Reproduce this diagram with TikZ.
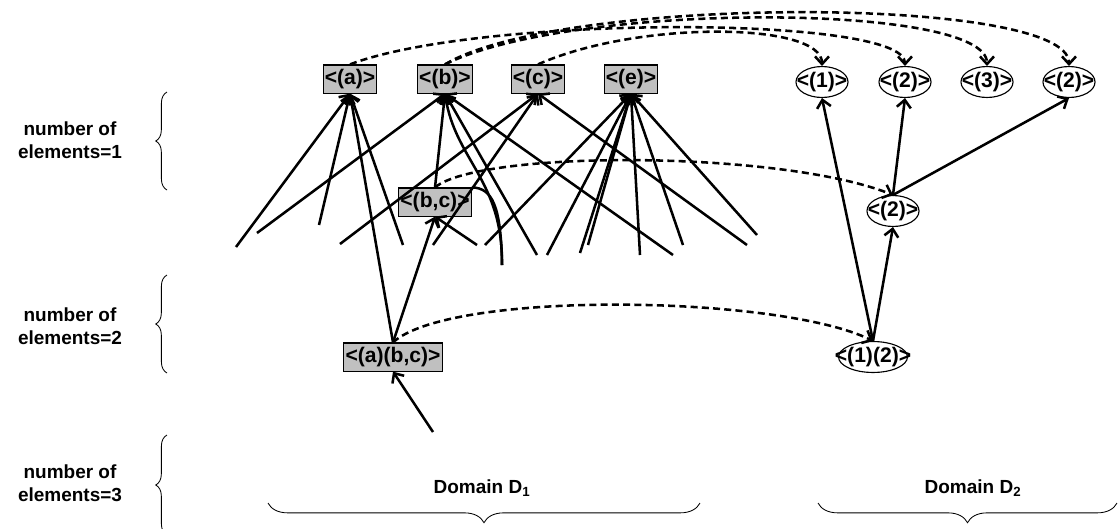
\documentclass[tikz,border=0pt]{standalone}
\usepackage{fontspec}
\setmainfont{Liberation Sans}
\usetikzlibrary{arrows.meta,shapes.geometric,decorations.pathreplacing}
\definecolor{box_grey}{RGB}{192,192,192}
\tikzstyle{box}=[rectangle,fill=box_grey,draw=black,line width=0.8pt,
  inner xsep=1.2pt,inner ysep=0pt,minimum height=20pt,font=\fontsize{15}{15}\selectfont\bfseries]
\tikzstyle{ell}=[ellipse,draw=black,line width=0.8pt,inner sep=0pt,
  minimum width=37pt,minimum height=22pt,font=\fontsize{15}{15}\selectfont\bfseries]
\tikzstyle{lbl}=[align=center,font=\fontsize{13.5}{16}\selectfont\bfseries]
\tikzstyle{none}=[inner sep=0pt]
\tikzstyle{arr}=[line width=1.8pt,-{Straight Barb[length=5.5pt,width=10pt]}]
\tikzstyle{dsh}=[arr,dash pattern=on 5pt off 3pt]
\tikzstyle{brc}=[decorate,line width=0.6pt]
\begin{document}
\begin{tikzpicture}[x=0.025cm, y=-0.025cm]
		\useasboundingbox (0,0) rectangle (1120,528);
		\clip (0,0) rectangle (1120,528);
		% domain D1
		\node [style=box] (0) at (350,79) {<(a)>};
		\node [style=box] (1) at (445,79) {<(b)>};
		\node [style=box] (2) at (538,79) {<(c)>};
		\node [style=box] (3) at (631,79) {<(e)>};
		\node [style=box] (4) at (435,202) {<(b,c)>};
		\node [style=box] (5) at (393,357) {<(a)(b,c)>};
		% domain D2
		\node [style=ell] (6) at (822,82) {\makebox[0pt]{<(1)>}};
		\node [style=ell] (7) at (905,82) {\makebox[0pt]{<(2)>}};
		\node [style=ell] (8) at (987,82) {\makebox[0pt]{<(3)>}};
		\node [style=ell] (9) at (1069,82) {\makebox[0pt]{<(2)>}};
		\node [style=ell] (10) at (893,211) {\makebox[0pt]{<(2)>}};
		\node [style=ell, minimum width=49pt] (11) at (873,357) {\makebox[0pt]{<(1)(2)>}};
		% loose ends
		\node [style=none] (20) at (236,247) {};
		\node [style=none] (21) at (319,225) {};
		\node [style=none] (22) at (403,245) {};
		\node [style=none] (23) at (257,233) {};
		\node [style=none] (24) at (502,265) {};
		\node [style=none] (25) at (673,255) {};
		\node [style=none] (26) at (537,255) {};
		\node [style=none] (27) at (340,244) {};
		\node [style=none] (28) at (747,245) {};
		\node [style=none] (29) at (433,245) {};
		\node [style=none] (30) at (485,245) {};
		\node [style=none] (31) at (547,255) {};
		\node [style=none] (32) at (580,253) {};
		\node [style=none] (33) at (588,245) {};
		\node [style=none] (34) at (640,255) {};
		\node [style=none] (35) at (683,245) {};
		\node [style=none] (36) at (757,235) {};
		\node [style=none] (37) at (477,245) {};
		\node [style=none] (38) at (433,432) {};
		% labels
		\node [style=lbl] (40) at (70,140) {number of\\elements=1};
		\node [style=lbl] (41) at (70,326) {number of\\elements=2};
		\node [style=lbl] (42) at (70,483) {number of\\elements=3};
		\node [style=lbl] (43) at (482,488) {Domain D\textsubscript{1}};
		\node [style=lbl] (44) at (973,488) {Domain D\textsubscript{2}};
		% braces
		\draw [style=brc, decoration={brace,amplitude=8pt}] (167,190) -- (167,92);
		\draw [style=brc, decoration={brace,amplitude=8pt}] (167,373) -- (167,275);
		\draw [style=brc, decoration={brace,amplitude=8pt}] (167,535) -- (167,435);
		\draw [style=brc, decoration={brace,amplitude=14pt}] (700,503) -- (268,503);
		\draw [style=brc, decoration={brace,amplitude=14pt}] (1117,503) -- (818,503);
		% solid edges in D1
		\draw [style=arr] (20.center) to (0.south);
		\draw [style=arr] (21.center) to (0.south);
		\draw [style=arr] (22.center) to (0.south);
		\draw [style=arr] (5.north) to (0.south);
		\draw [style=arr] (23.center) to (1.south);
		\draw [style=arr] (24.center) .. controls (503,180) and (455,160) .. (1.south);
		\draw [line width=1.8pt] (4.north east) .. controls (492,188) and (501,205) .. (24.center);
		\draw [style=arr] (25.center) to (1.south);
		\draw [style=arr] (26.center) to (1.south);
		\draw [style=arr] (4.north) to (1.south);
		\draw [style=arr] (27.center) to (2.south);
		\draw [style=arr] (28.center) to (2.south);
		\draw [style=arr] (29.center) to (2.south);
		\draw [style=arr] (30.center) to (3.south);
		\draw [style=arr] (31.center) to (3.south);
		\draw [style=arr] (32.center) to (3.south);
		\draw [style=arr] (33.center) to (3.south);
		\draw [style=arr] (34.center) to (3.south);
		\draw [style=arr] (35.center) to (3.south);
		\draw [style=arr] (36.center) to (3.south);
		\draw [style=arr] (37.center) to (4.south);
		\draw [style=arr] (5.north) to (4.south);
		\draw [style=arr] (38.center) to (5.south);
		% solid edges in D2
		\draw [style=arr] (11.north) to (6.south);
		\draw [style=arr] (11.north) to (10.south);
		\draw [style=arr] (10.north) to (7.south);
		\draw [style=arr] (10.north) to (9.south);
		% dashed mapping
		\draw [style=dsh] (2.north) .. controls (638,20) and (822,22) .. (6.north);
		\draw [style=dsh] (0.north) .. controls (480,15) and (905,15) .. (7.north);
		\draw [style=dsh] (1.north) .. controls (570,2) and (987,2) .. (8.north);
		\draw [style=dsh] (1.north) .. controls (560,-5) and (1069,-5) .. (9.north);
		\draw [style=dsh] (4.north) .. controls (480,150) and (780,150) .. (10.north);
		\draw [style=dsh] (5.north) .. controls (450,290) and (780,295) .. (11.north);
\end{tikzpicture}
\end{document}
